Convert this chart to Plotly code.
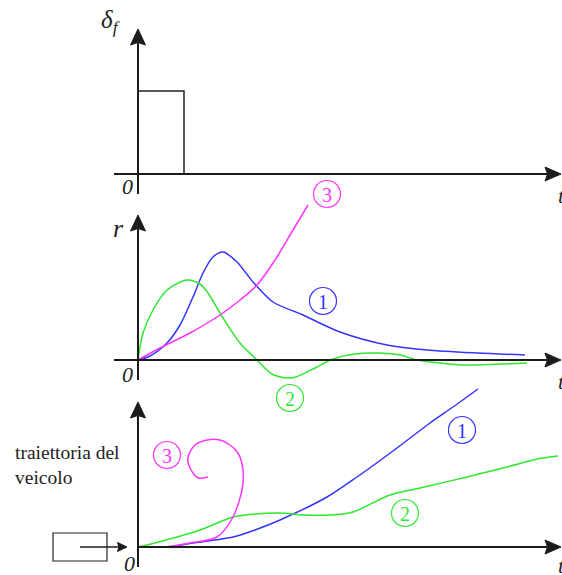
import plotly.graph_objects as go

# ---------------- data ----------------
# steering input: rectangular pulse
delta_t = [0, 0, 4.6, 4.6]
delta_v = [0, 8.3, 8.3, 0]

# yaw rate r(t) for the three vehicle cases
r1_t = [0, 1.2, 2.9, 4.2, 5.5, 6.5, 7.5, 8.5, 9.9, 11.5, 13.5, 16.5, 20.2, 24.9, 28.9, 33.9, 38.7]
r1_v = [0, 0.4, 1.7, 3.5, 6.3, 8.7, 10.3, 10.8, 9.8, 7.8, 5.8, 4.5, 2.8, 1.5, 1.0, 0.7, 0.5]

r2_t = [0, 0.5, 1.5, 2.9, 4.9, 6.2, 7.0, 8.5, 10.2, 11.9, 13.4, 14.9, 15.8, 17.7, 19.5,
        21.7, 23.9, 26.2, 27.9, 30.2, 32.5, 38.9]
r2_v = [0, 2.7, 5.0, 7.0, 8.0, 7.6, 6.7, 4.2, 1.7, 0, -1.4, -1.8, -1.7, -0.8, 0.1,
        0.6, 0.7, 0.5, 0, -0.3, -0.5, -0.3]

r3_t = [0, 2.2, 5.2, 8.2, 10.2, 11.9, 13.9, 15.5, 17.0]
r3_v = [0, 1.2, 2.7, 4.5, 6.0, 7.5, 10.3, 13.0, 15.5]

# vehicle trajectories (x, y)
p1_x = [0, 2.9, 5.5, 9.5, 11.7, 14.2, 18.9, 21.9, 25.9, 29.2, 31.5, 34.0]
p1_y = [0, 0, 0.4, 1.0, 1.7, 2.7, 5.0, 7.0, 9.9, 12.4, 14.0, 15.8]

p2_x = [0, 0.9, 6.2, 9.5, 11.7, 14.2, 16.5, 19.2, 21.5, 25.2, 28.2, 32.9, 36.9, 39.9, 42.0]
p2_y = [0, 0.2, 1.7, 3.0, 3.3, 3.4, 3.2, 3.2, 3.5, 5.2, 5.9, 7.0, 8.0, 8.8, 9.1]

p3_x = [0, 2.7, 5.2, 7.9, 9.5, 10.4, 10.5, 10.0, 9.2, 8.2, 6.9, 5.7, 5.0, 5.2, 6.0, 7.0]
p3_y = [0, 0, 0.4, 1.0, 3.0, 5.7, 7.7, 9.4, 10.2, 10.7, 10.7, 10.2, 9.0, 7.9, 6.9, 7.0]

BLUE = "#3434ff"
GREEN = "#2ee82e"
MAGENTA = "#ff33ff"
AXIS = "#1c1c1c"
SERIF = '"Liberation Serif", "DejaVu Serif", serif'

W, H = 562, 575

fig = go.Figure()

def line(x, y, color, xa, ya, width=1.5, shape="spline"):
    fig.add_trace(go.Scatter(x=x, y=y, mode="lines", xaxis=xa, yaxis=ya,
                             line=dict(color=color, width=width, shape=shape,
                                       smoothing=0.8),
                             hoverinfo="skip", showlegend=False))

line(delta_t, delta_v, "#222222", "x", "y", width=1.5, shape="linear")
line(r1_t, r1_v, BLUE, "x2", "y2")
line(r2_t, r2_v, GREEN, "x2", "y2")
line(r3_t, r3_v, MAGENTA, "x2", "y2")
line(p1_x, p1_y, BLUE, "x3", "y3")
line(p2_x, p2_y, GREEN, "x3", "y3")
line(p3_x, p3_y, MAGENTA, "x3", "y3")

shapes = []

def seg(x0, y0, x1, y1, xr, yr, width=2, color=AXIS):
    shapes.append(dict(type="line", x0=x0, y0=y0, x1=x1, y1=y1, xref=xr, yref=yr,
                       line=dict(color=color, width=width)))

def head_up(x, tip, xr, yr, L=1.6, Wd=0.75, notch=0.25):
    p = (f"M {x},{tip} L {x - Wd},{tip - L} L {x},{tip - L + notch} "
         f"L {x + Wd},{tip - L} Z")
    shapes.append(dict(type="path", path=p, xref=xr, yref=yr,
                       fillcolor=AXIS, line=dict(color=AXIS, width=1)))

def head_right(tip, y, xr, yr, L=1.6, Wd=0.7, notch=0.25):
    p = (f"M {tip},{y} L {tip - L},{y + Wd} L {tip - L + notch},{y} "
         f"L {tip - L},{y - Wd} Z")
    shapes.append(dict(type="path", path=p, xref=xr, yref=yr,
                       fillcolor=AXIS, line=dict(color=AXIS, width=1)))

# axes with arrowheads for each panel
for xr, yr, hstart in (("x", "y", -2.4), ("x2", "y2", -2.4), ("x3", "y3", 0)):
    seg(hstart, 0, 40.9, 0, xr, yr)
    head_right(42.3, 0, xr, yr)
    seg(0, -2.0, 0, 13.1, xr, yr)
    head_up(0, 14.5, xr, yr)

# vehicle box and heading arrow
shapes.append(dict(type="rect", x0=-8.5, x1=-3.1, y0=-1.4, y1=1.4, xref="x3", yref="y3",
                   line=dict(color="#222222", width=1.2)))
seg(-5.8, 0, -1.9, 0, "x3", "y3", width=1.5)
head_right(-1.1, 0, "x3", "y3", L=0.95, Wd=0.45, notch=0.15)

def px(v):
    return v / W

def py(v):
    return 1 - v / H

annotations = []

def label(text, x, y, size, color="#222222", xanchor="center", yanchor="middle"):
    annotations.append(dict(text=text, x=px(x), y=py(y), xref="paper", yref="paper",
                            showarrow=False, xanchor=xanchor, yanchor=yanchor,
                            font=dict(family=SERIF, size=size, color=color)))

def circled(num, x, y, color, r=13.5):
    shapes.append(dict(type="circle", xref="paper", yref="paper",
                       x0=px(x - r), x1=px(x + r), y0=py(y + r), y1=py(y - r),
                       line=dict(color=color, width=1.2)))
    label(str(num), x, y + 1, 20, color=color)

# origin labels
label("<i>0</i>", 127, 186, 22)
label("<i>0</i>", 127, 374, 22)
label("<i>0</i>", 129, 563, 22)

# time labels at the right edge
label("<i>t</i>", 556, 195, 22, xanchor="left")
label("<i>t</i>", 556, 381, 22, xanchor="left")
label("<i>t</i>", 556, 565, 22, xanchor="left")

# vertical axis titles
label("<i>δ<sub>f</sub></i>", 110, 22, 25)
label("<i>r</i>", 118, 228, 26)

# trajectory caption
label("traiettoria del", 13, 452, 19.5, xanchor="left")
label("veicolo", 13, 477, 19.5, xanchor="left")

# case markers
circled(3, 327, 194, MAGENTA)
circled(1, 323, 301, BLUE)
circled(2, 290, 398, GREEN)
circled(3, 167, 455, MAGENTA)
circled(1, 462, 430, BLUE)
circled(2, 405, 513, GREEN)

XR = [-13.8, 42.4]
ax_off = dict(visible=False, showgrid=False, zeroline=False, fixedrange=True)

fig.update_layout(
    width=W, height=H,
    margin=dict(l=0, r=0, t=0, b=0),
    paper_bgcolor="white", plot_bgcolor="rgba(0,0,0,0)",
    showlegend=False,
    font=dict(family=SERIF),
    xaxis=dict(ax_off, range=XR, domain=[0, 1], anchor="y"),
    xaxis2=dict(ax_off, range=XR, domain=[0, 1], anchor="y2"),
    xaxis3=dict(ax_off, range=XR, domain=[0, 1], anchor="y3"),
    yaxis=dict(ax_off, range=[-2.6, 17.4], domain=[1 - 200 / H, 1], anchor="x"),
    yaxis2=dict(ax_off, range=[-2.5, 16.0], domain=[1 - 385 / H, 1 - 200 / H], anchor="x2"),
    yaxis3=dict(ax_off, range=[-2.8, 16.2], domain=[0, 1 - 385 / H], anchor="x3"),
    shapes=shapes,
    annotations=annotations,
)

fig.write_html("out.html", config=dict(displayModeBar=False))
